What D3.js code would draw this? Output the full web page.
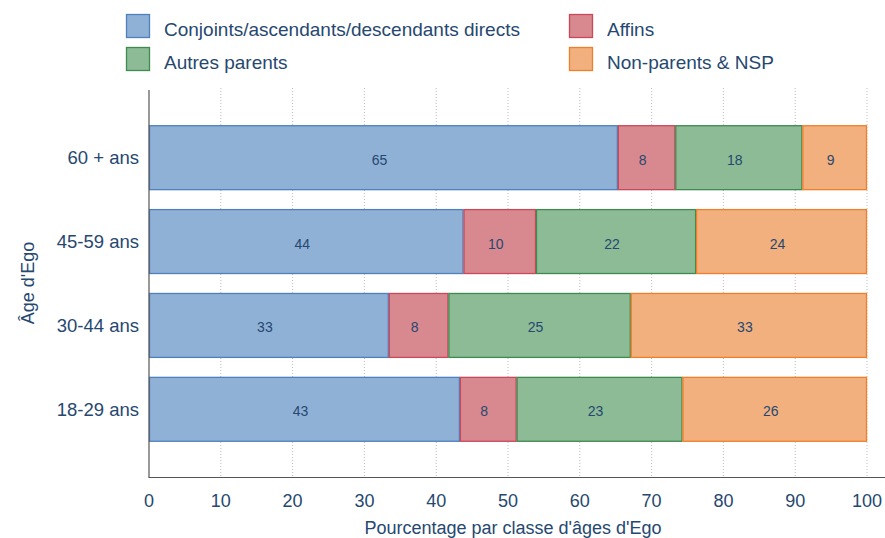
<!DOCTYPE html>
<html><head><meta charset="utf-8">
<script src="https://cdn.jsdelivr.net/npm/d3@7/dist/d3.min.js"></script>
<style>
body{margin:0;background:#fff;}
text{font-family:"Liberation Sans",Arial,Helvetica,sans-serif;fill:#264870;}
</style></head>
<body><svg id="c" width="885" height="538"></svg>
<script>
const categories = ["60 + ans", "45-59 ans", "30-44 ans", "18-29 ans"];
const seriesNames = ["Conjoints/ascendants/descendants directs", "Affins", "Autres parents", "Non-parents & NSP"];
const direct = [65.3, 43.8, 33.4, 43.3];
const affins = [8.0, 10.1, 8.3, 7.9];
const autres = [17.7, 22.3, 25.4, 23.1];
const nonpar = [9.0, 23.8, 32.9, 25.7];
const xTicks = [0, 10, 20, 30, 40, 50, 60, 70, 80, 90, 100];
const fills = ["#8fb1d6", "#d8898f", "#8cbb96", "#f2b07f"];
const strokes = ["#4f80bd", "#c9485a", "#3f8a4f", "#ef7f2a"];

const seriesVals = [direct, affins, autres, nonpar];
const data = categories.map((c, i) => ({cat: c, v: seriesVals.map(s => s[i])}));

const svg = d3.select("#c");
const x = d3.scaleLinear().domain([0, 100]).range([149, 867]);
const y = d3.scaleBand().domain(categories).range([90, 477]).paddingInner(0.226).paddingOuter(0.42);

// gridlines
svg.append("g").selectAll("line").data(xTicks.filter(t => t > 0)).join("line")
  .attr("x1", d => x(d)).attr("x2", d => x(d)).attr("y1", 88).attr("y2", 477)
  .attr("stroke", "#bdbdbd").attr("stroke-width", 1).attr("stroke-dasharray", "1,2");

// bars
const g = svg.append("g");
data.forEach(d => {
  let cum = 0;
  d.v.forEach((val, k) => {
    const x0 = x(cum), x1 = x(cum + val);
    g.append("rect").attr("x", x0 + 0.5).attr("y", y(d.cat) + 0.5)
      .attr("width", x1 - x0 - 1).attr("height", y.bandwidth() - 1)
      .attr("fill", fills[k]).attr("stroke", strokes[k]).attr("stroke-width", 1.3);
    g.append("text").attr("x", (x0 + x1) / 2 - 4).attr("y", y(d.cat) + y.bandwidth() / 2 + 2)
      .attr("text-anchor", "middle").attr("dominant-baseline", "central")
      .attr("font-size", 14).text(Math.round(val));
    cum += val;
  });
});

// axes lines
svg.append("line").attr("x1", 149).attr("x2", 149).attr("y1", 90).attr("y2", 477.5)
  .attr("stroke", "#555").attr("stroke-width", 1.2);
svg.append("line").attr("x1", 148.5).attr("x2", 885).attr("y1", 477.5).attr("y2", 477.5)
  .attr("stroke", "#555").attr("stroke-width", 1.2);

// x tick labels
svg.append("g").selectAll("text").data(xTicks).join("text")
  .attr("x", d => x(d)).attr("y", 507).attr("text-anchor", "middle")
  .attr("font-size", 18).text(d => d);

// y labels
svg.append("g").selectAll("text").data(categories).join("text")
  .attr("x", 139).attr("y", d => y(d) + y.bandwidth() / 2).attr("text-anchor", "end")
  .attr("dominant-baseline", "central").attr("font-size", 18.5).text(d => d);

// axis titles
svg.append("text").attr("x", 513).attr("y", 534).attr("text-anchor", "middle")
  .attr("font-size", 18).text("Pourcentage par classe d'âges d'Ego");
svg.append("text").attr("transform", "translate(34,283) rotate(-90)").attr("text-anchor", "middle")
  .attr("font-size", 18).text("Âge d'Ego");

// legend: row1: direct, affins; row2: autres, nonpar
const legPos = [[126, 14], [569, 14], [126, 47], [569, 47]];
[0, 1, 2, 3].forEach((k, i) => {
  const [lx, ly] = legPos[i];
  svg.append("rect").attr("x", lx + 0.5).attr("y", ly + 0.5).attr("width", 23).attr("height", 23)
    .attr("fill", fills[k]).attr("stroke", strokes[k]).attr("stroke-width", 1.3);
  svg.append("text").attr("x", lx + 38).attr("y", ly + 15).attr("dominant-baseline", "central")
    .attr("font-size", 19).text(seriesNames[k]);
});
</script></body></html>
